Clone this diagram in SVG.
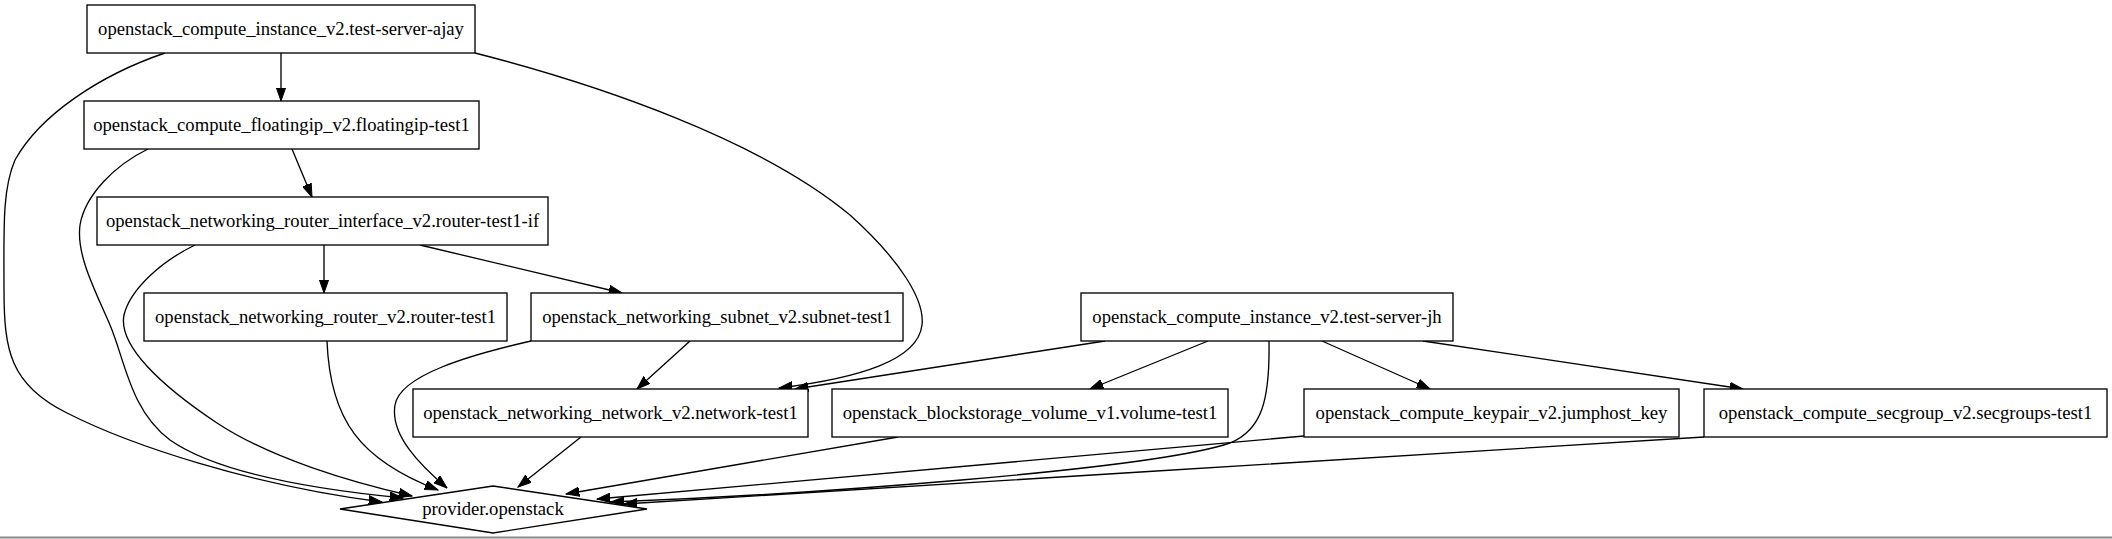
<svg xmlns="http://www.w3.org/2000/svg" width="2112" height="539" viewBox="0 0 2112 539">
<style>
.n rect, .n polygon { fill: #ffffff; stroke: #000000; stroke-width: 1.33; }
.n text { font-family: "Liberation Serif", "Times New Roman", serif; font-size: 18.67px; fill: #000000; text-anchor: middle; }
#edges path { fill: none; stroke: #000000; stroke-width: 1.33; marker-end: url(#arr); }
</style>
<defs>
<marker id="arr" markerUnits="userSpaceOnUse" markerWidth="14" markerHeight="10" viewBox="0 0 14 10" refX="13.3" refY="5" orient="auto">
<path d="M0,0.33 L13.3,5 L0,9.67 z" fill="#000000" stroke="#000000" stroke-width="1"/>
</marker>
</defs>
<rect x="0" y="0" width="2112" height="539" fill="#ffffff"/>
<g id="edges">
<path d="M281,53 L281,101"/>
<path d="M292,149 L312,197"/>
<path d="M324,245 L324,293"/>
<path d="M420,245 L622,293"/>
<path d="M690,341 L637,389"/>
<path d="M581,437 L518,487"/>
<path d="M1105,341 L795,389"/>
<path d="M1208,341 L1090,389"/>
<path d="M1322,341 L1430,389"/>
<path d="M1423,341 L1743,389"/>
<path d="M898,437 L566,494"/>
<path d="M1304,436 L597,499"/>
<path d="M1704,437 C1450,455 900,485 624,504"/>
<path d="M1269,341 C1270,400 1262,430 1230,443 C1150,470 800,495 611,502"/>
<path d="M165,53 C100,75 40,115 15,160 C2,190 4,230 4,290 C4,350 10,385 67,413 C130,445 250,485 382,502"/>
<path d="M148,149 C115,165 85,195 80,225 C76,255 95,290 110,325 C125,360 130,410 170,440 C220,475 320,490 403,498"/>
<path d="M195,245 C160,262 130,290 124,315 C118,345 160,385 217,423 C270,458 350,482 412,496"/>
<path d="M327,341 C330,420 360,460 438,490"/>
<path d="M531,341 C470,355 400,375 395,405 C390,435 420,465 447,488"/>
<path d="M475,53 C600,85 760,140 850,215 C900,260 925,300 922,325 C918,360 860,378 779,388"/>
</g>
<g id="node-ajay" class="n"><rect x="87" y="5" width="388" height="48"/><text x="281" y="35">openstack_compute_instance_v2.test-server-ajay</text></g>
<g id="node-floatingip" class="n"><rect x="84" y="101" width="395" height="48"/><text x="281.5" y="131">openstack_compute_floatingip_v2.floatingip-test1</text></g>
<g id="node-router-if" class="n"><rect x="97" y="197" width="451" height="48"/><text x="322.5" y="227">openstack_networking_router_interface_v2.router-test1-if</text></g>
<g id="node-router" class="n"><rect x="144" y="293" width="363" height="48"/><text x="325.5" y="323">openstack_networking_router_v2.router-test1</text></g>
<g id="node-subnet" class="n"><rect x="531" y="293" width="372" height="48"/><text x="717" y="323">openstack_networking_subnet_v2.subnet-test1</text></g>
<g id="node-network" class="n"><rect x="413" y="389" width="395" height="48"/><text x="610.5" y="419">openstack_networking_network_v2.network-test1</text></g>
<g id="node-jh" class="n"><rect x="1081" y="293" width="372" height="48"/><text x="1267" y="323">openstack_compute_instance_v2.test-server-jh</text></g>
<g id="node-volume" class="n"><rect x="832" y="389" width="396" height="48"/><text x="1030" y="419">openstack_blockstorage_volume_v1.volume-test1</text></g>
<g id="node-keypair" class="n"><rect x="1304" y="389" width="375" height="48"/><text x="1491.5" y="419">openstack_compute_keypair_v2.jumphost_key</text></g>
<g id="node-secgroups" class="n"><rect x="1704" y="389" width="403" height="48"/><text x="1905.5" y="419">openstack_compute_secgroup_v2.secgroups-test1</text></g>
<g id="node-provider" class="n"><polygon points="493,486 647,509 493,533 340,509"/><text x="493" y="515">provider.openstack</text></g>
<rect x="0" y="536.5" width="2112" height="2" fill="#8a8a8a"/>
</svg>
